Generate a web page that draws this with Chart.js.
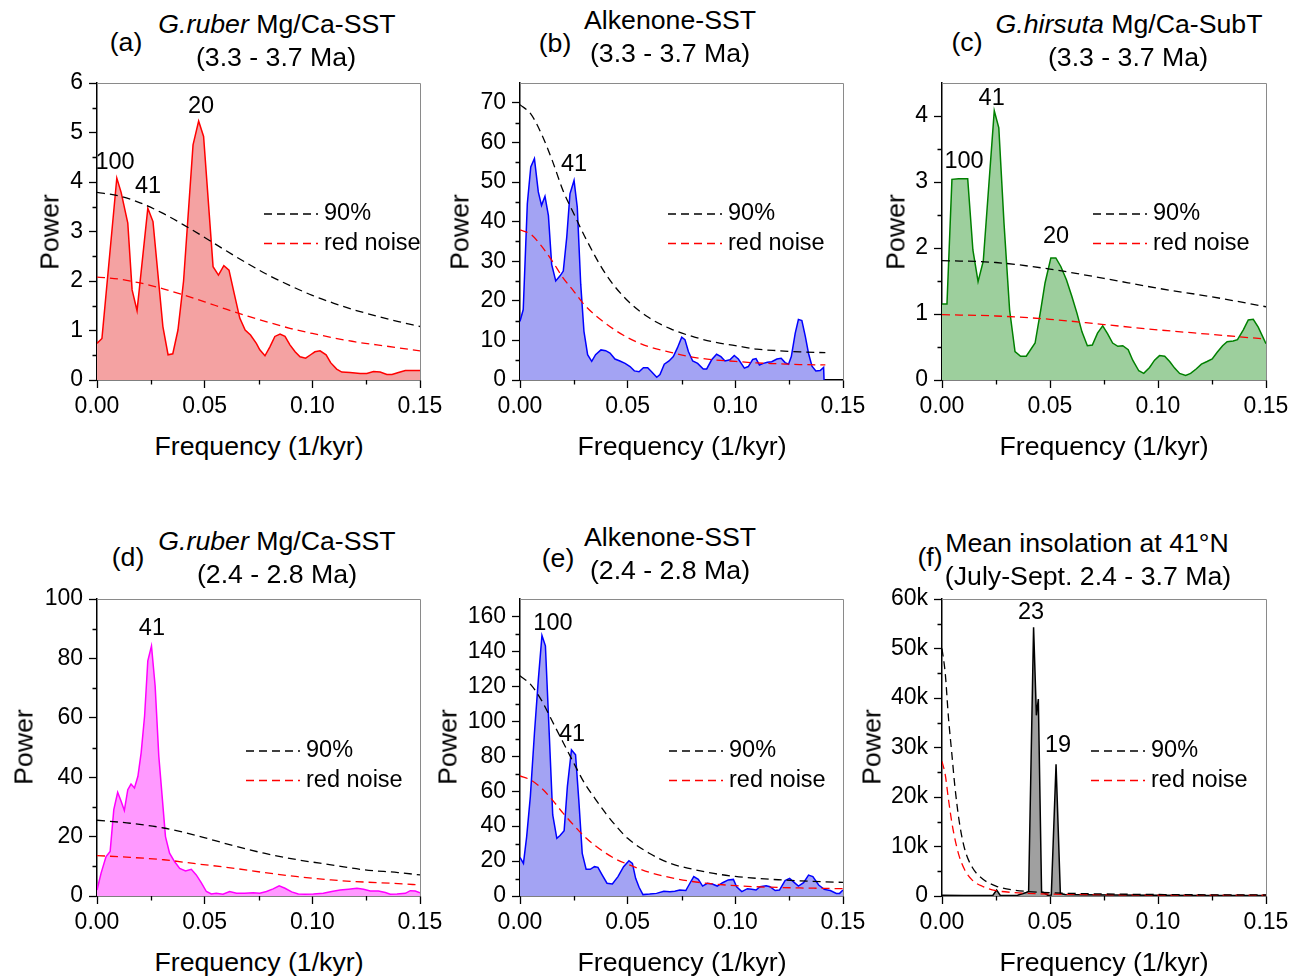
<!DOCTYPE html>
<html>
<head>
<meta charset="utf-8">
<script src="https://cdn.jsdelivr.net/npm/chart.js@4.4.1/dist/chart.umd.min.js"></script>
<style>
  body { margin: 0; background: #fff; width: 1303px; height: 980px; position: relative; overflow: hidden;
         font-family: "Liberation Sans", Arial, sans-serif; color: #000; }
  canvas { position: absolute; }
  .t { position: absolute; transform: translate(-50%, -50%); white-space: nowrap; font-size: 26.7px; line-height: 27px; }
  .v { transform: translate(-50%, -50%) rotate(-90deg); }
</style>
</head>
<body>
<script>
// ---- (a) G.ruber Mg/Ca-SST 3.3-3.7 Ma
const freqA = [0, .0023, .0092, .0112, .0143, .0163, .0186, .0236, .026, .0306, .033, .0352, .0376, .0402, .0446, .0472, .0495, .0539, .0564, .0589, .0613, .0637, .0663, .0688, .0713, .074, .0756, .078, .0803, .0826, .085, .0873, .0896, .092, .0943, .0969, .0992, .1012, .1036, .1064, .1085, .1113, .1137, .1175, .1222, .1253, .1284, .1315, .1346, .137, .14, .1432, .147, .15];
const powerA = [0.74, 0.84, 4.08, 3.79, 3.17, 1.82, 1.40, 3.47, 3.2, 1.08, 0.51, 0.53, 1.01, 2.0, 4.75, 5.23, 4.92, 2.29, 2.12, 2.31, 2.22, 1.75, 1.25, 1.01, 0.91, 0.74, 0.61, 0.49, 0.67, 0.88, 0.93, 0.88, 0.71, 0.57, 0.47, 0.44, 0.51, 0.57, 0.59, 0.51, 0.35, 0.22, 0.16, 0.15, 0.13, 0.13, 0.17, 0.16, 0.11, 0.11, 0.15, 0.19, 0.19, 0.19];
const noiseFreqA = [0, .01, .02, .03, .04, .05, .06, .07, .08, .09, .10, .11, .12, .13, .14, .15];
const conf90A = [3.79, 3.72, 3.58, 3.38, 3.14, 2.88, 2.61, 2.35, 2.11, 1.90, 1.71, 1.55, 1.41, 1.29, 1.18, 1.08];
const redNoiseA = [2.08, 2.04, 1.96, 1.85, 1.72, 1.58, 1.43, 1.29, 1.16, 1.04, 0.94, 0.85, 0.77, 0.71, 0.65, 0.59];
const peaksA = [{ f: .0084, p: 4.4, text: '100' }, { f: .0237, p: 3.9, text: '41' }, { f: .0483, p: 5.52, text: '20' }];

// ---- (b) Alkenone-SST 3.3-3.7 Ma
const freqB = [0, .0015, .0034, .005, .0067, .0085, .01, .0116, .0132, .0147, .0166, .0186, .0201, .0217, .0232, .0251, .0266, .0282, .0297, .0314, .0333, .0351, .0376, .0398, .0418, .0441, .0464, .0488, .0511, .0531, .0553, .0573, .0593, .0611, .0635, .065, .067, .0692, .0712, .0731, .0751, .0766, .0782, .0802, .0825, .0851, .0867, .089, .0913, .0933, .0952, .0975, .0995, .1014, .1042, .106, .1081, .1096, .1112, .113, .1149, .1169, .1193, .1213, .1231, .1247, .126, .1278, .1293, .1309, .1325, .134, .1356, .1374, .1394, .141, .1412];
const powerB = [14.8, 17.8, 44.5, 53.8, 55.9, 47.5, 44.1, 46.4, 41.5, 29.2, 25.0, 26.3, 27.5, 36.0, 47.0, 50.4, 43.6, 24.2, 12.3, 6.4, 4.7, 6.4, 7.6, 7.4, 6.8, 5.3, 4.8, 4.2, 3.4, 2.3, 2.1, 3.1, 3.1, 2.1, 0.7, 1.4, 4.0, 4.8, 5.9, 8.1, 10.8, 10.2, 7.2, 4.8, 4.2, 2.8, 2.8, 5.1, 6.5, 5.9, 4.8, 5.1, 6.2, 5.3, 3.0, 3.4, 5.2, 5.4, 3.8, 4.2, 4.5, 4.6, 5.3, 5.5, 4.4, 4.0, 5.9, 11.8, 15.3, 15.0, 11.0, 6.7, 3.5, 2.3, 2.4, 3.2, 0];
const noiseFreqB = [0, .005, .01, .015, .02, .025, .03, .04, .05, .06, .07, .08, .09, .10, .11, .12, .13, .1418];
const conf90B = [69.5, 67.2, 62.1, 55.4, 47.8, 42.0, 36.3, 26.6, 20.0, 15.7, 12.9, 11.0, 9.6, 8.7, 7.8, 7.4, 7.1, 6.9];
const redNoiseB = [37.9, 36.8, 33.8, 30.0, 25.8, 22.4, 18.9, 14.2, 10.7, 8.4, 7.0, 5.8, 5.1, 4.7, 4.3, 4.1, 3.9, 3.8];
const peaksB = [{ f: .0251, p: 54.5, text: '41' }];

// ---- (c) G.hirsuta Mg/Ca-SubT 3.3-3.7 Ma
const freqC = [0, .0023, .0046, .0077, .0119, .0143, .0167, .0191, .0242, .0263, .0287, .0313, .0338, .0364, .039, .0431, .0457, .0477, .0504, .0527, .055, .0576, .0601, .0625, .0648, .0673, .0696, .072, .0744, .0767, .079, .0814, .0837, .0862, .0883, .0911, .0934, .0961, .0984, .1007, .1031, .1054, .1077, .11, .1128, .1151, .1178, .1201, .1227, .1251, .1274, .1299, .132, .1348, .1368, .1395, .1418, .1441, .1464, .15];
const powerC = [1.15, 1.15, 3.04, 3.05, 3.05, 1.97, 1.49, 1.80, 4.08, 3.82, 2.38, 1.06, 0.43, 0.36, 0.36, 0.56, 1.06, 1.47, 1.85, 1.85, 1.72, 1.52, 1.27, 1.01, 0.73, 0.52, 0.53, 0.71, 0.82, 0.70, 0.56, 0.51, 0.52, 0.46, 0.30, 0.14, 0.10, 0.19, 0.30, 0.37, 0.36, 0.28, 0.18, 0.10, 0.07, 0.10, 0.17, 0.24, 0.28, 0.32, 0.42, 0.52, 0.58, 0.59, 0.61, 0.76, 0.91, 0.92, 0.80, 0.55];
const noiseFreqC = [0, .025, .05, .075, .10, .125, .15];
const conf90C = [1.81, 1.78, 1.68, 1.54, 1.39, 1.26, 1.11];
const redNoiseC = [0.99, 0.97, 0.92, 0.84, 0.76, 0.69, 0.62];
const peaksC = [{ f: .0102, p: 3.31, text: '100' }, { f: .023, p: 4.26, text: '41' }, { f: .0528, p: 2.17, text: '20' }];

// ---- (d) G.ruber Mg/Ca-SST 2.4-2.8 Ma
const freqD = [0, .0019, .0042, .0061, .0078, .0096, .0112, .0127, .0143, .0158, .0174, .019, .0205, .0221, .0236, .0253, .027, .0287, .0318, .0337, .036, .0384, .0411, .0438, .0461, .0484, .0508, .0531, .0554, .0585, .0616, .0648, .0686, .0725, .0756, .0787, .0818, .0846, .0873, .0904, .0935, .0966, .1005, .1051, .109, .1129, .1168, .1207, .1238, .1269, .1307, .1339, .1362, .1393, .1432, .1455, .1478, .15];
const powerD = [2.0, 7.7, 13.3, 15.0, 29.1, 34.9, 31.9, 28.8, 35.8, 37.7, 36.4, 40.3, 48.2, 60.6, 79.2, 84.2, 70.7, 47.1, 20.0, 14.4, 11.6, 9.3, 8.4, 9.0, 7.1, 4.5, 1.5, 0.7, 0.9, 0.6, 1.5, 0.9, 0.9, 1.1, 0.9, 1.5, 2.4, 3.4, 2.6, 1.4, 0.7, 0.6, 0.7, 0.9, 1.5, 2.0, 2.3, 2.6, 2.3, 1.7, 1.7, 1.2, 0.6, 0.7, 0.9, 1.8, 1.7, 1.1];
const noiseFreqD = [0, .0155, .031, .0466, .062, .0776, .0932, .1087, .1242, .1398, .15];
const conf90D = [25.5, 24.5, 22.9, 20.3, 17.2, 14.4, 12.2, 10.5, 8.8, 7.9, 7.1];
const redNoiseD = [13.6, 13.0, 12.2, 10.8, 9.5, 7.9, 6.5, 5.4, 4.7, 4.2, 3.7];
const peaksD = [{ f: .0255, p: 89.9, text: '41' }];

// ---- (e) Alkenone-SST 2.4-2.8 Ma
const freqE = [0, .0016, .0031, .0048, .0067, .0085, .0102, .0118, .0137, .0152, .0171, .0186, .0205, .022, .0239, .0258, .0273, .0289, .0307, .0326, .0346, .0362, .0382, .0404, .0429, .0455, .0481, .0506, .0522, .0537, .0553, .0571, .0602, .0634, .0668, .0696, .0719, .0742, .077, .0789, .0807, .0828, .0848, .087, .0893, .0916, .0941, .0967, .0991, .1006, .103, .1056, .1076, .1096, .1115, .1143, .1161, .1185, .1205, .1231, .1252, .1273, .1293, .1317, .134, .136, .1387, .1413, .1441, .1469, .1484, .15];
const powerE = [22.1, 18.7, 34, 56.9, 93, 123.7, 149.1, 143.2, 89.4, 46.4, 33.0, 34.6, 37.4, 62.6, 83.6, 80.8, 55, 24.4, 15.3, 15.3, 16.8, 16.4, 12.0, 7.3, 6.9, 11.1, 16.8, 20.2, 18.7, 10.1, 5.0, 0.8, 1.1, 1.5, 2.7, 2.5, 2.7, 3.4, 3.1, 7.3, 11.1, 9.5, 5.7, 7.3, 6.9, 5.7, 7.6, 9.2, 9.5, 5.3, 2.5, 4.2, 3.8, 3.4, 5.3, 5.9, 5.3, 3.1, 3.4, 8.8, 10.1, 7.8, 5.7, 7.6, 12.0, 11.1, 6.3, 3.8, 3.1, 1.5, 1.5, 3.4];
const noiseFreqE = [0, .005, .01, .015, .02, .025, .03, .035, .04, .045, .05, .06, .07, .08, .09, .10, .11, .12, .13, .14, .15];
const conf90E = [126, 121, 112, 100, 88, 76, 64.5, 55.5, 47, 39.5, 33, 24.5, 18.6, 15.4, 12.9, 11.2, 10.1, 9.3, 8.7, 8.2, 7.8];
const redNoiseE = [68.7, 66.4, 61.7, 55, 47.4, 40.5, 34, 28.8, 24.4, 20.8, 18.2, 13.6, 10.5, 8.3, 6.9, 5.9, 5.3, 4.9, 4.6, 4.4, 4.2];
const peaksE = [{ f: .0153, p: 155.7, text: '100' }, { f: .0242, p: 92.2, text: '41' }];

// ---- (f) mean insolation at 41N, July-Sept
const freqF = [0, .01, .02, .0235, .0253, .027, .03, .035, .039, .0401, .0424, .0437, .0446, .0461, .047, .049, .0506, .0528, .0548, .057, .065, .08, .10, .12, .15];
const powerF = [150, 120, 100, 100, 1200, 100, 100, 150, 700, 900, 54300, 36500, 39800, 800, 700, 150, 200, 26600, 500, 300, 250, 200, 150, 120, 100];
const noiseFreqF = [0, .0015, .003, .0045, .006, .008, .0105, .014, .019, .025, .033, .04, .05, .07, .10, .15];
const conf90F = [50000, 45000, 36000, 29000, 22000, 15000, 9500, 5800, 3400, 2000, 1200, 900, 650, 450, 300, 200];
const redNoiseF = [27200, 24500, 19500, 15000, 11500, 8000, 5300, 3200, 1900, 1100, 700, 520, 400, 280, 200, 150];
const peaksF = [{ f: .0412, p: 57200, text: '23' }, { f: .0537, p: 30500, text: '19' }];

const xTicks = { min: 0, max: 0.15, step: 0.05 };
const FONT = '"Liberation Sans", Arial, sans-serif';

const zip = (fs, ps) => fs.map((f, i) => ({ x: f, y: ps[i] }));

const decor = {
  id: 'decor',
  afterDraw(chart, args, o) {
    const { ctx, chartArea: a, scales: { x, y } } = chart;
    ctx.save();
    // thin grey top and right frame
    ctx.strokeStyle = '#8a8a8a';
    ctx.lineWidth = 1;
    ctx.beginPath();
    ctx.moveTo(a.left, a.top + 0.5);
    ctx.lineTo(a.right + 0.5, a.top + 0.5);
    ctx.lineTo(a.right + 0.5, a.bottom);
    ctx.stroke();
    // minor ticks
    ctx.strokeStyle = '#000';
    ctx.lineWidth = 1.3;
    ctx.beginPath();
    for (let v = xTicks.step / 2; v < xTicks.max; v += xTicks.step) {
      const px = Math.round(x.getPixelForValue(v)) + 0.5;
      ctx.moveTo(px, a.bottom);
      ctx.lineTo(px, a.bottom + 4.5);
    }
    for (let v = o.step / 2; v < y.max - 1e-9; v += o.step) {
      const py = Math.round(y.getPixelForValue(v)) + 0.5;
      ctx.moveTo(a.left, py);
      ctx.lineTo(a.left - 4.5, py);
    }
    ctx.stroke();
    // peak period labels
    ctx.fillStyle = '#000';
    ctx.font = '23.5px ' + FONT;
    ctx.textAlign = 'center';
    ctx.textBaseline = 'middle';
    o.peaks.forEach(p => ctx.fillText(p.text, x.getPixelForValue(p.f), y.getPixelForValue(p.p)));
    // legend
    const lx = a.left + o.legend[0], ly = a.top + o.legend[1];
    [['#000', '90%'], ['#ff0000', 'red noise']].forEach(([c, label], i) => {
      const yy = ly + i * 29.5;
      ctx.strokeStyle = c;
      ctx.lineWidth = 1.3;
      ctx.setLineDash([8, 5]);
      ctx.beginPath();
      ctx.moveTo(lx, yy);
      ctx.lineTo(lx + 54, yy);
      ctx.stroke();
      ctx.setLineDash([]);
      ctx.textAlign = 'left';
      ctx.fillText(label, lx + 60, yy);
    });
    ctx.restore();
  }
};

const PAD = { l: 95, t: 25, r: 35, b: 45 };

function panel(box, cfg) {
  const cv = document.createElement('canvas');
  const w = box[2] - box[0], h = box[3] - box[1];
  cv.width = w + PAD.l + PAD.r;
  cv.height = h + PAD.t + PAD.b;
  cv.style.left = (box[0] - PAD.l) + 'px';
  cv.style.top = (box[1] - PAD.t) + 'px';
  document.body.appendChild(cv);

  const tickFont = { family: FONT, size: 23 };
  new Chart(cv, {
    type: 'line',
    data: {
      datasets: [
        { data: zip(cfg.freq, cfg.power), borderColor: cfg.line, backgroundColor: cfg.fill, fill: 'origin',
          borderWidth: 1.5, pointRadius: 0, tension: 0, order: 3 },
        { data: zip(cfg.noiseFreq, cfg.red), borderColor: '#ff0000', borderDash: [8, 5], borderWidth: 1.3,
          pointRadius: 0, fill: false, cubicInterpolationMode: 'monotone', order: 2 },
        { data: zip(cfg.noiseFreq, cfg.conf), borderColor: '#000', borderDash: [8, 5], borderWidth: 1.3,
          pointRadius: 0, fill: false, cubicInterpolationMode: 'monotone', order: 1 }
      ]
    },
    options: {
      responsive: false,
      animation: false,
      devicePixelRatio: 1,
      layout: { padding: { left: 0, top: PAD.t, right: PAD.r, bottom: 0 } },
      plugins: {
        legend: { display: false },
        tooltip: { enabled: false },
        decor: { step: cfg.step, peaks: cfg.peaks, legend: cfg.legend }
      },
      scales: {
        x: {
          type: 'linear', min: xTicks.min, max: xTicks.max,
          afterFit: s => { s.height = PAD.b; },
          ticks: { stepSize: xTicks.step, callback: v => v.toFixed(2), font: tickFont, color: '#000',
                   padding: 5, maxRotation: 0, autoSkip: false, includeBounds: false },
          grid: { drawOnChartArea: false, tickLength: 8, tickColor: '#000', tickWidth: 1.3 },
          border: { color: '#000', width: 1.5 }
        },
        y: {
          type: 'linear', min: 0, max: cfg.max,
          afterFit: s => { s.width = PAD.l; },
          ticks: { stepSize: cfg.step, callback: cfg.fmt || (v => String(v)), font: tickFont, color: '#000',
                   padding: 6, autoSkip: false, includeBounds: false },
          grid: { drawOnChartArea: false, tickLength: 8, tickColor: '#000', tickWidth: 1.3 },
          border: { color: '#000', width: 1.5 }
        }
      }
    },
    plugins: [decor]
  });
}

panel([97, 83, 420, 380], { freq: freqA, power: powerA, noiseFreq: noiseFreqA, conf: conf90A, red: redNoiseA,
  line: '#ff0000', fill: '#f4a2a2', max: 6, step: 1, peaks: peaksA, legend: [167, 131] });
panel([520, 83, 843, 380], { freq: freqB, power: powerB, noiseFreq: noiseFreqB, conf: conf90B, red: redNoiseB,
  line: '#0000ff', fill: '#a3a3f3', max: 75, step: 10, peaks: peaksB, legend: [148, 131] });
panel([942, 83, 1266, 380], { freq: freqC, power: powerC, noiseFreq: noiseFreqC, conf: conf90C, red: redNoiseC,
  line: '#008000', fill: '#9dcf9d', max: 4.5, step: 1, peaks: peaksC, legend: [151, 131] });
panel([97, 599, 420, 896], { freq: freqD, power: powerD, noiseFreq: noiseFreqD, conf: conf90D, red: redNoiseD,
  line: '#ff00ff', fill: '#ff99ff', max: 100, step: 20, peaks: peaksD, legend: [149, 152] });
panel([520, 599, 843, 896], { freq: freqE, power: powerE, noiseFreq: noiseFreqE, conf: conf90E, red: redNoiseE,
  line: '#0000ff', fill: '#a3a3f3', max: 170, step: 20, peaks: peaksE, legend: [149, 152] });
panel([942, 599, 1266, 896], { freq: freqF, power: powerF, noiseFreq: noiseFreqF, conf: conf90F, red: redNoiseF,
  line: '#000000', fill: '#a0a0a0', max: 60000, step: 10000, peaks: peaksF, legend: [149, 152],
  fmt: v => v === 0 ? '0' : (v / 1000) + 'k' });

// titles and axis names
const labels = [
  ['(a)', 126, 42], ['<i>G.ruber</i> Mg/Ca-SST', 277, 24], ['(3.3 - 3.7 Ma)', 276, 57],
  ['(b)', 555, 43], ['Alkenone-SST', 670, 20], ['(3.3 - 3.7 Ma)', 670, 53],
  ['(c)', 967, 42], ['<i>G.hirsuta</i> Mg/Ca-SubT', 1129, 24], ['(3.3 - 3.7 Ma)', 1128, 57],
  ['(d)', 128, 557], ['<i>G.ruber</i> Mg/Ca-SST', 277, 541], ['(2.4 - 2.8 Ma)', 277, 574],
  ['(e)', 558, 558], ['Alkenone-SST', 670, 537], ['(2.4 - 2.8 Ma)', 670, 570],
  ['(f)', 930, 557], ['Mean insolation at 41°N', 1087, 543], ['(July-Sept. 2.4 - 3.7 Ma)', 1088, 576]
];
[[259, 446], [682, 446], [1104, 446], [259, 962], [682, 962], [1104, 962]].forEach(([x, y]) => labels.push(['Frequency (1/kyr)', x, y]));
labels.forEach(([html, x, y]) => {
  const d = document.createElement('div');
  d.className = 't';
  d.innerHTML = html;
  d.style.left = x + 'px';
  d.style.top = y + 'px';
  document.body.appendChild(d);
});
[[50, 232], [460, 232], [896, 232], [24, 747], [448, 747], [872, 747]].forEach(([x, y]) => {
  const d = document.createElement('div');
  d.className = 't v';
  d.textContent = 'Power';
  d.style.left = x + 'px';
  d.style.top = y + 'px';
  document.body.appendChild(d);
});
</script>
</body>
</html>
